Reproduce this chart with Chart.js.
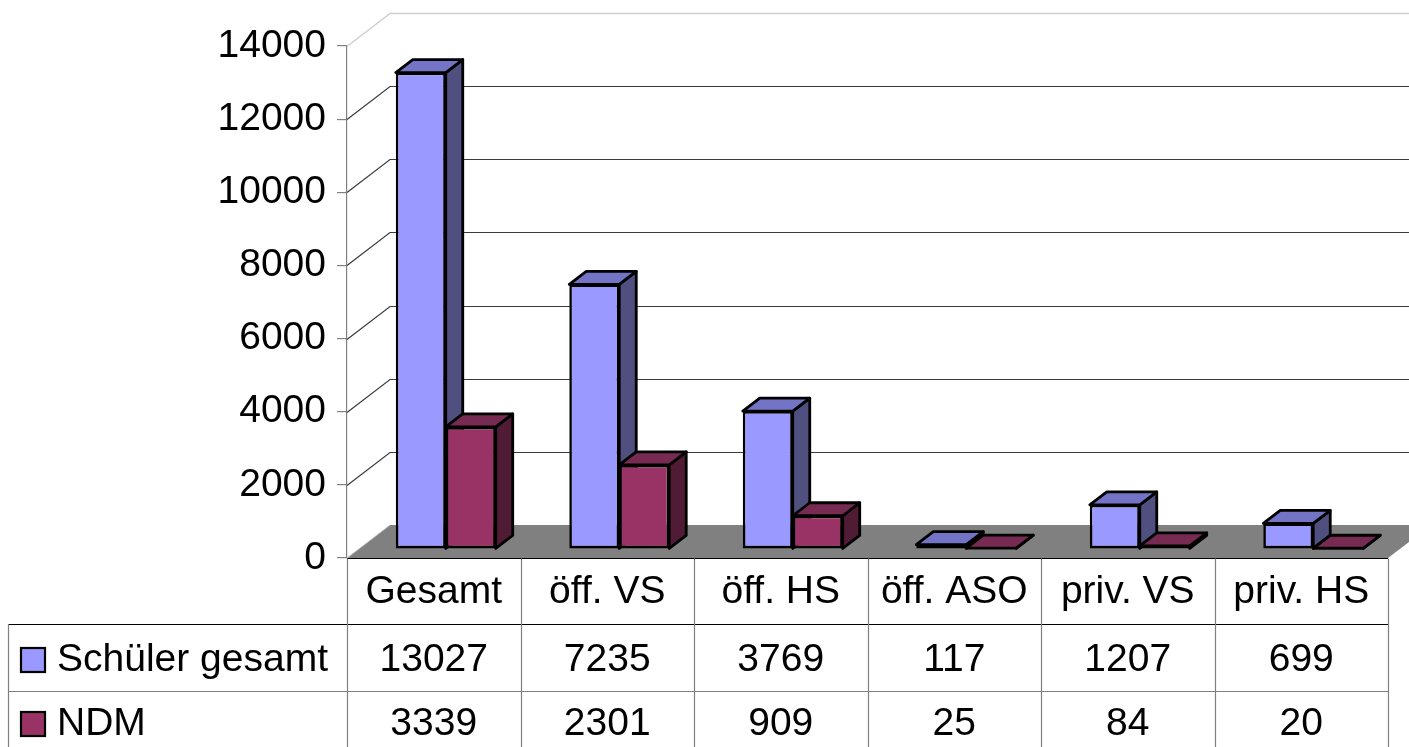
<!DOCTYPE html>
<html>
<head>
<meta charset="utf-8">
<script src="https://cdn.jsdelivr.net/npm/chart.js@4/dist/chart.umd.min.js"></script>
<style>
  html, body { margin: 0; padding: 0; background: #fff; overflow: hidden; }
  #wrap { width: 1409px; height: 747px; position: relative; }
</style>
</head>
<body>
<div id="wrap"><canvas id="chart"></canvas></div>
<script>
// data
const categories = ["Gesamt", "öff. VS", "öff. HS", "öff. ASO", "priv. VS", "priv. HS"];
const schuelerGesamt = [13027, 7235, 3769, 117, 1207, 699];
const ndm = [3339, 2301, 909, 25, 84, 20];
const seriesNames = ["Schüler gesamt", "NDM"];
const yMax = 14000;
const yStep = 2000;

// look
const FONT = '"Liberation Sans", Arial, sans-serif';
const colors = [
  { front: "#9999ff", top: "#7474c6", side: "#4f4f80" },
  { front: "#993366", top: "#772a52", side: "#501b35" },
];
const WALL = { dx: 43, dy: -33 };   // back wall offset from the front plane
const BAR_OFF = { dx: 12, dy: -9 }; // bars stand a bit into the floor
const BAR_DEPTH = { dx: 17, dy: -13 };

// walls, floor and the side/top faces of the bars
const depthPlugin = {
  id: "depth",
  beforeDatasetsDraw(chart) {
    const ctx = chart.ctx;
    const xs = chart.scales.x, ys = chart.scales.y;
    const L = xs.left, R = xs.right, W = chart.width;
    const y0 = ys.getPixelForValue(0);

    ctx.save();
    // floor
    ctx.fillStyle = "#808080";
    ctx.beginPath();
    ctx.moveTo(L, y0);
    ctx.lineTo(L + WALL.dx, y0 + WALL.dy);
    ctx.lineTo(R + WALL.dx, y0 + WALL.dy);
    ctx.lineTo(R, y0);
    ctx.closePath();
    ctx.fill();
    ctx.strokeStyle = "#c8c8c8";
    ctx.lineWidth = 1;
    ctx.beginPath();
    ctx.moveTo(L, y0);
    ctx.lineTo(L + WALL.dx, y0 + WALL.dy);
    ctx.stroke();

    // grid lines on side wall and back wall
    ys.ticks.forEach((t) => {
      if (t.value === 0) return;
      const y = Math.round(ys.getPixelForValue(t.value)) + 0.5;
      ctx.strokeStyle = t.value === yMax ? "#cfcfcf" : "#3a3a3a";
      ctx.lineWidth = t.value === yMax ? 1.5 : 1.2;
      ctx.beginPath();
      ctx.moveTo(L, y);
      ctx.lineTo(L + WALL.dx, y + WALL.dy);
      ctx.lineTo(W, y + WALL.dy);
      ctx.stroke();
    });

    // bar tops and sides, first series first
    ctx.lineWidth = 2.8;
    ctx.lineJoin = "round";
    ctx.strokeStyle = "#000";
    [0, 1].forEach((di) => {
      const meta = chart.getDatasetMeta(di);
      meta.data.forEach((el) => {
        const l = el.x - el.width / 2 + BAR_OFF.dx;
        const r = el.x + el.width / 2 + BAR_OFF.dx;
        const top = el.y + BAR_OFF.dy;
        const bot = el.base + BAR_OFF.dy;
        // side
        ctx.fillStyle = colors[di].side;
        ctx.beginPath();
        ctx.moveTo(r, top);
        ctx.lineTo(r + BAR_DEPTH.dx, top + BAR_DEPTH.dy);
        ctx.lineTo(r + BAR_DEPTH.dx, bot + BAR_DEPTH.dy);
        ctx.lineTo(r, bot);
        ctx.closePath();
        ctx.fill();
        ctx.stroke();
        // top
        ctx.fillStyle = colors[di].top;
        ctx.beginPath();
        ctx.moveTo(l, top);
        ctx.lineTo(l + BAR_DEPTH.dx, top + BAR_DEPTH.dy);
        ctx.lineTo(r + BAR_DEPTH.dx, top + BAR_DEPTH.dy);
        ctx.lineTo(r, top);
        ctx.closePath();
        ctx.fill();
        ctx.stroke();
      });
    });
    ctx.restore();

    // front faces are drawn by Chart.js, shifted into the bar plane
    ctx.save();
    ctx.translate(BAR_OFF.dx, BAR_OFF.dy);
  },
  afterDatasetsDraw(chart) {
    chart.ctx.restore();
  },
};

// data table under the chart, with legend keys
const tablePlugin = {
  id: "datatable",
  afterDraw(chart) {
    const ctx = chart.ctx;
    const xs = chart.scales.x, ys = chart.scales.y;
    const L = xs.left, R = xs.right;
    const cw = (R - L) / categories.length;
    const yTop = Math.round(ys.getPixelForValue(0)) + 0.5;
    const rowH = [66, 67, 67];
    const r1 = yTop + rowH[0], r2 = r1 + rowH[1], r3 = r2 + rowH[2];
    const legendLeft = 8.5;
    const rows = [schuelerGesamt, ndm];

    ctx.save();
    // lines
    ctx.lineWidth = 1.2;
    ctx.strokeStyle = "#000";
    ctx.beginPath();
    ctx.moveTo(L, yTop); ctx.lineTo(R, yTop);
    ctx.moveTo(legendLeft, r1); ctx.lineTo(R, r1);
    ctx.stroke();
    ctx.strokeStyle = "#808080";
    ctx.beginPath();
    ctx.moveTo(legendLeft, r2); ctx.lineTo(R, r2);
    for (let k = 0; k <= categories.length; k++) {
      const x = Math.round(L + k * cw) + 0.5;
      ctx.moveTo(x, yTop); ctx.lineTo(x, r3);
    }
    ctx.moveTo(legendLeft, r1); ctx.lineTo(legendLeft, r3);
    ctx.stroke();

    // text
    ctx.fillStyle = "#000";
    ctx.font = "39px " + FONT;
    ctx.textAlign = "center";
    ctx.textBaseline = "middle";
    categories.forEach((c, i) => {
      const cx = xs.getPixelForValue(i);
      ctx.fillText(c, cx, (yTop + r1) / 2 + 1);
      ctx.fillText(String(rows[0][i]), cx, (r1 + r2) / 2 + 2);
      ctx.fillText(String(rows[1][i]), cx, (r2 + r3) / 2 - 1);
    });

    // legend keys
    const rowMid = [(r1 + r2) / 2 + 2, (r2 + r3) / 2 - 1];
    seriesNames.forEach((name, di) => {
      const ym = rowMid[di];
      ctx.fillStyle = colors[di].front;
      ctx.fillRect(21, ym - 12, 24, 24);
      ctx.strokeStyle = "#000";
      ctx.lineWidth = 2.2;
      ctx.strokeRect(21, ym - 12, 24, 24);
      ctx.fillStyle = "#000";
      ctx.textAlign = "left";
      ctx.fillText(name, 57, ym);
    });
    ctx.restore();
  },
};

new Chart(document.getElementById("chart"), {
  type: "bar",
  data: {
    labels: categories,
    datasets: [
      {
        label: seriesNames[0],
        data: schuelerGesamt,
        backgroundColor: colors[0].front,
        borderColor: "#000",
        borderWidth: 2.6,
        borderSkipped: false,
      },
      {
        label: seriesNames[1],
        data: ndm,
        backgroundColor: colors[1].front,
        borderColor: "#000",
        borderWidth: 2.6,
        borderSkipped: false,
      },
    ],
  },
  options: {
    responsive: true,
    maintainAspectRatio: false,
    animation: false,
    layout: { padding: { left: 0, right: 21, top: 46, bottom: 189 } },
    plugins: { legend: { display: false }, tooltip: { enabled: false } },
    datasets: { bar: { categoryPercentage: 0.576, barPercentage: 1.0 } },
    scales: {
      x: { display: false, offset: true },
      y: {
        min: 0,
        max: yMax,
        afterFit: (scale) => { scale.width = 347; },
        ticks: {
          stepSize: yStep,
          color: "#000",
          padding: 11,
          font: { family: FONT, size: 39 },
          callback: (v) => String(v),
        },
        grid: { drawOnChartArea: false, drawTicks: true, tickLength: 10, color: "#808080", lineWidth: 1.2 },
        border: { color: "#808080", width: 1.2 },
      },
    },
  },
  plugins: [depthPlugin, tablePlugin],
});
</script>
</body>
</html>
